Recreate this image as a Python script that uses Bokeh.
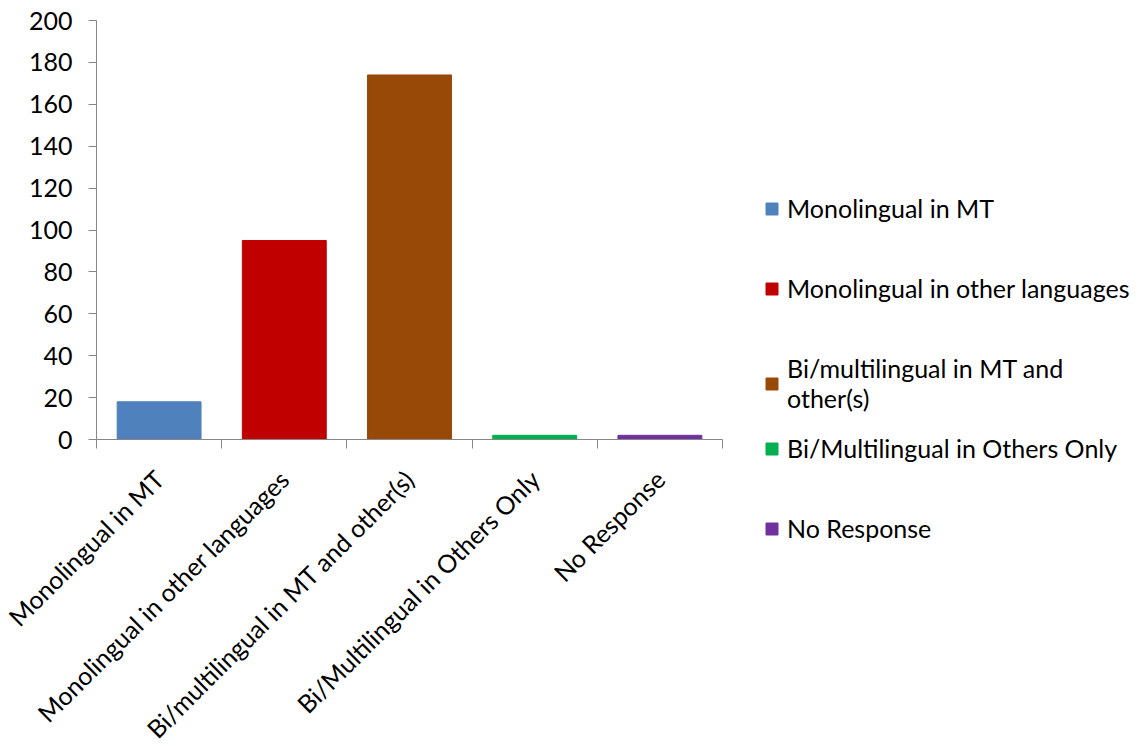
import math

from bokeh.embed import file_html
from bokeh.models import ColumnDataSource, FixedTicker, Legend, LegendItem, Range1d
from bokeh.plotting import figure
from bokeh.resources import INLINE

# Survey responses: language profile of respondents
categories = [
    "Monolingual in MT",
    "Monolingual in other languages",
    "Bi/multilingual in MT and other(s)",
    "Bi/Multilingual in Others Only",
    "No Response",
]
counts = [18, 95, 174, 2, 2]
bar_colors = ["#4F81BD", "#C00000", "#984807", "#00B050", "#7030A0"]
legend_labels = [
    "Monolingual in MT",
    "Monolingual in other languages",
    "Bi/multilingual in MT and\nother(s)",
    "Bi/Multilingual in Others Only",
    "No Response",
]
y_ticks = [0, 20, 40, 60, 80, 100, 120, 140, 160, 180, 200]
y_max = 200

FONT = "Lato"
FONT_SIZE = "25px"
AXIS_GREY = "#868686"
WIDTH, HEIGHT = 1142, 746

# Plot area of the bars in canvas pixels. The frame covers the whole
# canvas; both axes are pinned to the data origin so that the rotated
# category labels and the legend block are drawn without clipping.
AREA_LEFT, AREA_RIGHT, AREA_TOP, AREA_BOTTOM = 96, 722, 20, 439
n = len(categories)
px_per_cat = (AREA_RIGHT - AREA_LEFT) / n
px_per_unit = (AREA_BOTTOM - AREA_TOP) / y_max
x_start = -AREA_LEFT / px_per_cat
x_end = (WIDTH - AREA_LEFT) / px_per_cat
y_start = -(HEIGHT - AREA_BOTTOM) / px_per_unit
y_end = y_max + AREA_TOP / px_per_unit

centers = [i + 0.5 for i in range(n)]
boundaries = list(range(n + 1))

source = ColumnDataSource(dict(x=centers, top=counts, color=bar_colors, name=categories))

p = figure(
    width=WIDTH,
    height=HEIGHT,
    x_range=Range1d(x_start, x_end),
    y_range=Range1d(y_start, y_end),
    output_backend="svg",
    toolbar_location=None,
    min_border=0,
)
p.outline_line_color = None
p.grid.visible = False

bars = p.vbar(x="x", top="top", width=0.67, color="color", source=source)

# x axis on y = 0: labels at category centres, ticks at boundaries
xa = p.xaxis[0]
xa.fixed_location = 0
xa.bounds = (0, n)
xa.ticker = FixedTicker(ticks=centers, minor_ticks=boundaries)
xa.major_label_overrides = {c: name for c, name in zip(centers, categories)}
xa.major_label_orientation = math.pi / 4
xa.major_tick_out = 0
xa.major_tick_in = 0
xa.minor_tick_out = 9
xa.minor_tick_in = 0
xa.major_label_standoff = 26

# y axis on x = 0
ya = p.yaxis[0]
ya.fixed_location = 0
ya.bounds = (0, y_max)
ya.ticker = FixedTicker(ticks=y_ticks)
ya.major_tick_out = 8
ya.major_tick_in = 0
ya.minor_tick_out = 0
ya.minor_tick_in = 0
ya.major_label_standoff = 16

for ax in (xa, ya):
    ax.axis_line_color = AXIS_GREY
    ax.major_tick_line_color = AXIS_GREY
    ax.minor_tick_line_color = AXIS_GREY
    ax.axis_line_width = 1
    ax.major_label_text_font = FONT
    ax.major_label_text_font_size = FONT_SIZE
    ax.major_label_text_color = "black"

# Legend: one entry per category, rows on an 80 px pitch
LEGEND_X = 764
FIRST_ROW = 208
PITCH = 80
LINE_H = 30
for i, lab in enumerate(legend_labels):
    lines = lab.count("\n") + 1
    block_h = LINE_H * lines
    block_center = FIRST_ROW + PITCH * i + (lines - 1) * LINE_H / 2
    block_bottom = block_center + block_h / 2
    p.add_layout(
        Legend(
            items=[LegendItem(label=lab, renderers=[bars], index=i)],
            location=(LEGEND_X, HEIGHT - block_bottom),
            orientation="vertical",
            glyph_width=15,
            glyph_height=15,
            label_standoff=8,
            label_text_font=FONT,
            label_text_font_size=FONT_SIZE,
            label_text_color="black",
            padding=0,
            margin=0,
            spacing=0,
            border_line_color=None,
            background_fill_alpha=0,
        )
    )

open("out.html", "w").write(file_html(p, INLINE))
